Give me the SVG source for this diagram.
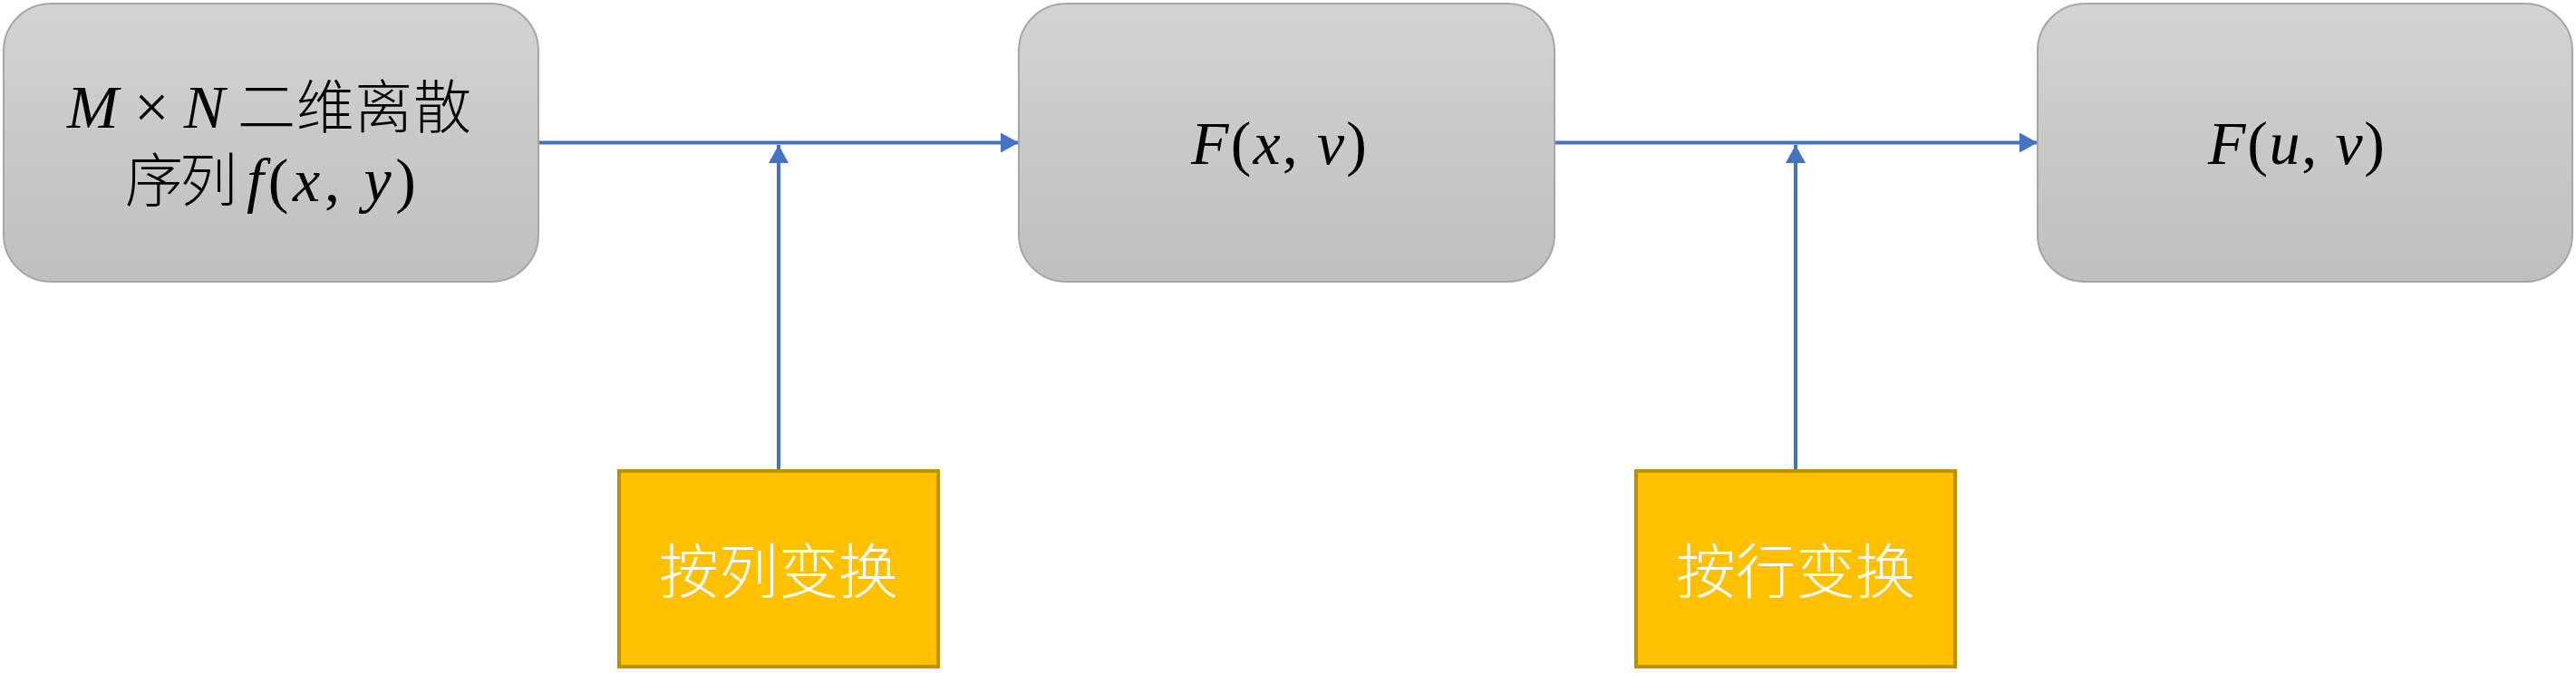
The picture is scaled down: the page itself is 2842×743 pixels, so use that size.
<svg xmlns="http://www.w3.org/2000/svg" width="2842" height="743" viewBox="0 0 2842 743">
<defs>
<linearGradient id="g" x1="0" y1="0" x2="0" y2="1">
<stop offset="0" stop-color="#d3d3d3"/>
<stop offset="1" stop-color="#bfbfbf"/>
</linearGradient>
<marker id="ah" markerUnits="userSpaceOnUse" markerWidth="20" markerHeight="22" refX="20" refY="11" orient="auto" viewBox="0 0 20 22">
<path d="M0,0 L20,11 L0,22 z" fill="#4472C4"/>
</marker>
<style>
.gn{fill:url(#g);stroke:#a6a6a6;stroke-width:2}
.yn{fill:#FFC000;stroke:#BF9000;stroke-width:4}
.cn{stroke:#4472C4;stroke-width:4;fill:none}
.m{font-family:"Liberation Serif",serif;font-style:italic;font-size:68px;fill:#000}
.u{font-style:normal}
.cj{font-family:"Noto Sans CJK SC",sans-serif;font-size:64px;font-weight:300;fill:#000}
.yt{font-family:"Noto Sans CJK SC",sans-serif;font-size:66px;fill:#fff;font-weight:300}
</style>
</defs>
<rect width="2842" height="743" fill="#fff"/>
<g id="connectors">
<line class="cn" x1="594" y1="157.5" x2="1124" y2="157.5" marker-end="url(#ah)"/>
<line class="cn" x1="1715" y1="157.5" x2="2248" y2="157.5" marker-end="url(#ah)"/>
<line class="cn" x1="859" y1="520" x2="859" y2="160" marker-end="url(#ah)"/>
<line class="cn" x1="1981" y1="520" x2="1981" y2="160" marker-end="url(#ah)"/>
</g>
<g id="node-input">
<rect class="gn" x="4" y="4" width="590" height="307" rx="52"/>
<text class="m" x="74" y="141" textLength="174" lengthAdjust="spacing">M × N</text>
<text class="cj" x="262" y="141" textLength="258" lengthAdjust="spacing">二维离散</text>
<text class="cj" x="138" y="222" textLength="124" lengthAdjust="spacing">序列</text>
<text class="m" x="272" y="222" textLength="187" lengthAdjust="spacing">f<tspan class="u">(</tspan>x<tspan class="u">, </tspan>y<tspan class="u">)</tspan></text>
</g>
<g id="node-fxv">
<rect class="gn" x="1124" y="4" width="591" height="307" rx="52"/>
<text class="m" x="1314" y="181" textLength="194" lengthAdjust="spacing">F<tspan class="u">(</tspan>x<tspan class="u">, </tspan>v<tspan class="u">)</tspan></text>
</g>
<g id="node-fuv">
<rect class="gn" x="2248" y="4" width="590" height="307" rx="52"/>
<text class="m" x="2436" y="181" textLength="195" lengthAdjust="spacing">F<tspan class="u">(</tspan>u<tspan class="u">, </tspan>v<tspan class="u">)</tspan></text>
</g>
<g id="node-col">
<rect class="yn" x="683" y="520" width="352" height="216"/>
<text class="yt" x="859" y="655" text-anchor="middle">按列变换</text>
</g>
<g id="node-row">
<rect class="yn" x="1805" y="520" width="352" height="216"/>
<text class="yt" x="1981" y="655" text-anchor="middle">按行变换</text>
</g>
</svg>
